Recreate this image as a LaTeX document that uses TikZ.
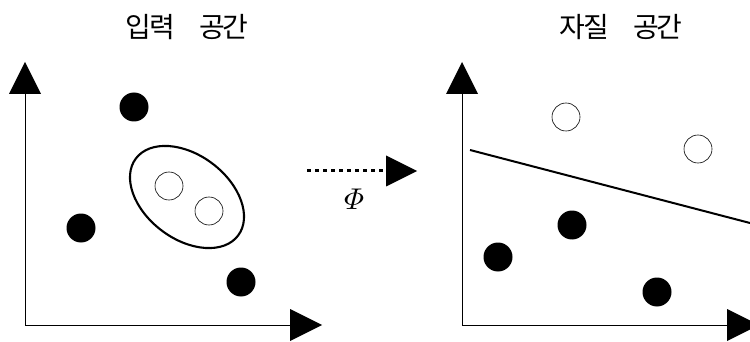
\documentclass[tikz,border=0pt]{standalone}
\usepackage{fontspec}
\newfontfamily\krfont{Noto Sans CJK KR}[LetterSpace=-9, WordSpace=6.5]
\usetikzlibrary{arrows.meta,shapes.geometric}
\begin{document}
\begin{tikzpicture}[x=1pt,y=-1pt,
  dotfill/.style={circle, fill=black, minimum size=29pt, inner sep=0pt},
  dotopen/.style={circle, draw=black, line width=0.6pt, minimum size=28pt, inner sep=0pt},
  axisline/.style={line width=0.8pt, -{Triangle[length=32pt,width=32pt,line width=0pt]}},
  maparrow/.style={line width=3pt, dash pattern=on 4pt off 4pt, -{Triangle[length=31pt,width=31pt,line width=0pt]}},
  sepline/.style={line width=2pt},
  cluster/.style={draw, ellipse, line width=2.1pt, minimum width=128pt, minimum height=84pt, inner sep=0pt},
  titletext/.style={font=\krfont\fontsize{28}{33}\selectfont, inner sep=0pt},
  labeltext/.style={inner sep=0pt}]
\useasboundingbox (0,0) rectangle (750,342);
% titles
\node[titletext] (t1) at (187,27) {입력 공간};
\node[titletext] (t2) at (621,27) {자질 공간};
% left axes
\coordinate (o1) at (25,325);
\coordinate (y1) at (25,62);
\coordinate (x1) at (322,325);
\draw[axisline] (o1) -- (y1);
\draw[axisline] (o1) -- (x1);
% left points
\node[dotfill] (a1) at (134,107) {};
\node[dotfill] (a2) at (81,228) {};
\node[dotfill] (a3) at (241,282) {};
\node[cluster, rotate=-37] (clu) at (187,197) {};
\node[dotopen] (b1) at (169,186) {};
\node[dotopen] (b2) at (209,211) {};
% mapping arrow
\coordinate (m1) at (307,171);
\coordinate (m2) at (417,171);
\draw[maparrow] (m1) -- (m2);
\node[labeltext] (phi) at (354,199) {\scalebox{3}{$\mathnormal{\Phi}$}};
% right axes
\coordinate (o2) at (462,325);
\coordinate (y2) at (462,62);
\coordinate (x2) at (759,325);
\draw[axisline] (o2) -- (y2);
\draw[axisline] (o2) -- (x2);
% separator
\coordinate (s1) at (470,150);
\coordinate (s2) at (750,223);
\draw[sepline] (s1) -- (s2);
% right points
\node[dotopen] (c1) at (566,117) {};
\node[dotopen] (c2) at (698,149) {};
\node[dotfill] (d1) at (498,257) {};
\node[dotfill] (d2) at (572,225) {};
\node[dotfill] (d3) at (657,292) {};
\end{tikzpicture}
\end{document}
